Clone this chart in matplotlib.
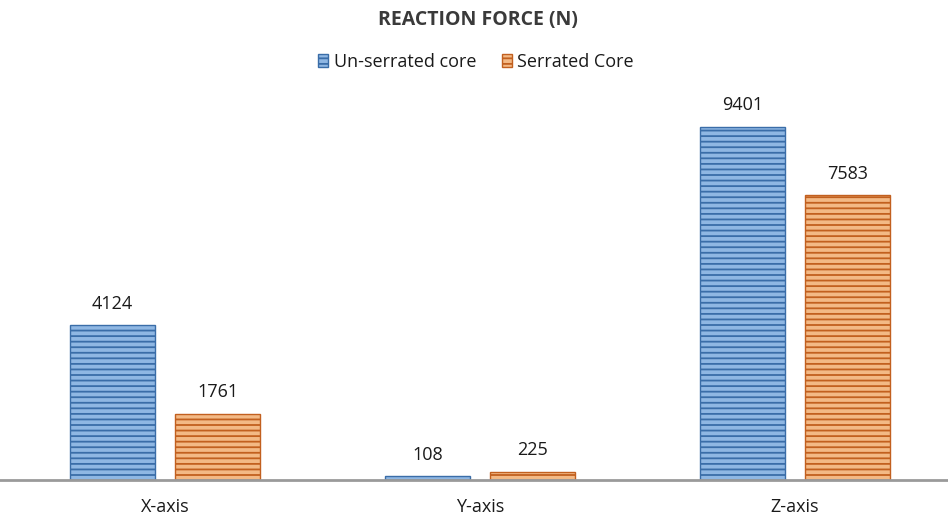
import matplotlib
matplotlib.use("Agg")
import matplotlib.pyplot as plt
from matplotlib.lines import Line2D
import numpy as np

categories = ["X-axis", "Y-axis", "Z-axis"]
unserrated = [4124, 108, 9401]
serrated = [1761, 225, 7583]
series_names = ["Un-serrated core", "Serrated Core"]

plt.rcParams['font.family'] = ['Open Sans', 'DejaVu Sans']
plt.rcParams['hatch.linewidth'] = 1.3

fig = plt.figure(figsize=(9.48, 5.17), dpi=100)
H = 517.0
W = 948.0
ymax = 10250
ax = fig.add_axes([7.5 / W, 37 / H, 945 / W, (480 - 95) / H])

x = np.arange(len(categories))
w = 0.267
off = 0.1667
b1 = ax.bar(x - off, unserrated, w, facecolor="#8FB7E3", edgecolor="#3A6DA8",
            hatch="---", linewidth=1.0, label=series_names[0])
b2 = ax.bar(x + off, serrated, w, facecolor="#F3B985", edgecolor="#C2601F",
            hatch="---", linewidth=1.0, label=series_names[1])

for bars, vals in ((b1, unserrated), (b2, serrated)):
    for r, v in zip(bars, vals):
        ax.text(r.get_x() + r.get_width() / 2, v + 330, str(v), ha="center",
                va="bottom", fontsize=13, color="#1a1a1a")

ax.set_xlim(-0.5, 2.5)
ax.set_ylim(0, ymax)
ax.set_yticks([])
ax.set_xticks(x)
ax.set_xticklabels(categories, fontsize=13, color="#1a1a1a")
ax.tick_params(axis="x", length=0, pad=13)
for s in ("top", "right", "left", "bottom"):
    ax.spines[s].set_visible(False)
fig.add_artist(Line2D([0, 1], [1 - 480 / H, 1 - 480 / H], color="#9A9A9A",
                      linewidth=2, transform=fig.transFigure))

fig.text(478 / W, 1 - 20 / H, "REACTION FORCE (N)", ha="center", va="center",
         fontsize=14, fontweight="bold", color="#3a3a3a")
leg = fig.legend(handles=[b1, b2], labels=series_names, loc="center",
                 bbox_to_anchor=(476 / W, 1 - 62 / H), ncol=2, frameon=False,
                 fontsize=13, handlelength=0.55, handleheight=0.75,
                 handletextpad=0.3, columnspacing=1.4)
for t in leg.get_texts():
    t.set_color("#1a1a1a")

fig.savefig("out.png", dpi=100)
